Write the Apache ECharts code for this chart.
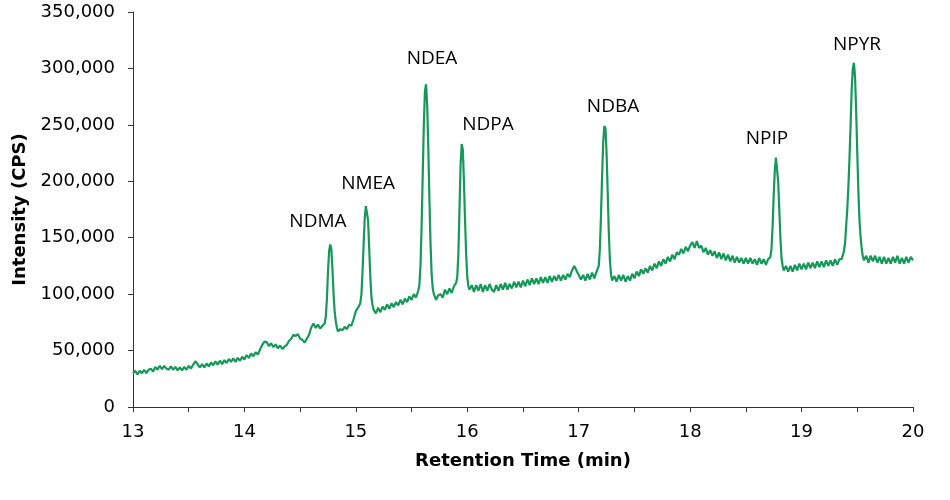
<!DOCTYPE html>
<html>
<head>
<meta charset="utf-8">
<script src="https://cdn.jsdelivr.net/npm/echarts@6/dist/echarts.min.js"></script>
<style>html,body{margin:0;padding:0;background:#fff}#c{width:950px;height:500px}</style>
</head>
<body>
<div id="c"></div>
<script>
// Chromatogram trace: [retention time (min), intensity (CPS)]
const chromatogram = [
[13.00,30000],[13.02,32000],[13.04,29000],[13.06,32000],[13.08,30000],[13.10,33000],[13.12,30000],[13.14,33000],[13.16,34000],[13.18,31500],
[13.20,35500],[13.22,33000],[13.24,36500],[13.26,33500],[13.28,36500],[13.30,34000],[13.32,33000],[13.34,36000],[13.36,33000],[13.38,35500],
[13.40,32500],[13.42,35000],[13.44,32500],[13.46,35500],[13.48,33000],[13.50,36500],[13.52,34000],[13.54,37500],[13.56,40500],[13.58,38000],
[13.60,35000],[13.62,38000],[13.64,35000],[13.66,38500],[13.68,36000],[13.70,39500],[13.72,37000],[13.74,40500],[13.76,37500],[13.78,41000],
[13.80,38000],[13.82,41500],[13.84,39000],[13.86,42500],[13.88,40000],[13.90,43000],[13.92,40000],[13.94,43500],[13.96,41000],[13.98,44500],
[14.00,42000],[14.02,46000],[14.04,43500],[14.06,47500],[14.08,45000],[14.10,48500],[14.12,46500],[14.14,51000],[14.16,55000],[14.18,58000],
[14.20,57500],[14.22,54000],[14.24,56500],[14.26,53000],[14.28,55500],[14.30,52000],[14.32,54500],[14.34,51500],[14.36,53500],[14.38,55000],
[14.40,58500],[14.42,60500],[14.44,64000],[14.46,63000],[14.48,64500],[14.50,60500],[14.52,59500],[14.54,57000],[14.56,60500],[14.58,64000],
[14.60,70500],[14.62,74000],[14.64,70000],[14.66,73000],[14.68,69500],[14.70,72000],
[14.72,74000],[14.73,80000],[14.74,95000],[14.75,120000],[14.76,138000],[14.77,144000],[14.78,140000],[14.79,122000],[14.80,100000],[14.81,84000],
[14.82,76000],[14.83,70000],[14.84,67000],[14.86,69000],[14.88,68000],[14.90,71000],[14.92,69000],[14.94,73000],[14.96,72000],[14.98,78000],
[15.00,85000],[15.02,88000],[15.04,92000],
[15.05,100000],[15.06,120000],[15.07,145000],[15.08,168000],[15.09,178000],[15.10,179000],[15.11,165000],[15.12,140000],[15.13,115000],[15.14,97000],
[15.15,90000],[15.16,86000],[15.18,83000],[15.20,88000],[15.22,84000],[15.24,89000],[15.26,86000],[15.28,91000],[15.30,87000],[15.32,92000],
[15.34,88500],[15.36,93000],[15.38,90000],[15.40,95000],[15.42,91000],[15.44,96000],[15.46,93000],[15.48,98000],[15.50,95000],[15.52,100000],
[15.54,97000],[15.56,103000],
[15.57,108000],[15.58,125000],[15.59,160000],[15.60,205000],[15.61,250000],[15.62,280000],[15.63,286000],[15.64,268000],[15.65,230000],[15.66,185000],
[15.67,145000],[15.68,118000],[15.69,105000],[15.70,100000],[15.72,95000],[15.74,99000],[15.76,100000],[15.78,97000],[15.80,104000],[15.82,100000],
[15.84,105000],[15.86,101000],[15.88,107000],[15.90,110000],
[15.91,115000],[15.92,135000],[15.93,175000],[15.94,215000],[15.95,233000],[15.96,228000],[15.97,200000],[15.98,165000],[15.99,135000],[16.00,115000],
[16.01,107000],[16.02,104000],[16.04,108000],[16.06,102000],[16.08,108000],[16.10,103000],[16.12,109000],[16.14,102000],[16.16,108000],[16.18,103000],
[16.20,109000],[16.22,104000],[16.24,102000],[16.26,108000],[16.28,103000],[16.30,109000],[16.32,104000],[16.34,110000],[16.36,104000],[16.38,109000],
[16.40,105000],[16.42,111000],[16.44,106000],[16.46,111000],[16.48,106000],[16.50,112000],[16.52,107000],[16.54,113000],[16.56,108000],[16.58,114000],
[16.60,109000],[16.62,114000],[16.64,109000],[16.66,115000],[16.68,110000],[16.70,115000],[16.72,110000],[16.74,116000],[16.76,111000],[16.78,116000],
[16.80,112000],[16.82,117000],[16.84,112000],[16.86,117000],[16.88,113000],[16.90,118000],[16.92,115000],[16.94,121000],[16.96,125000],[16.98,121000],
[17.00,117000],[17.02,113000],[17.04,117000],[17.06,112000],[17.08,118000],[17.10,113000],[17.12,119000],[17.14,114000],[17.16,120000],[17.18,125000],
[17.19,140000],[17.20,170000],[17.21,205000],[17.22,235000],[17.23,249000],[17.24,247000],[17.25,225000],[17.26,190000],[17.27,155000],[17.28,130000],
[17.29,117000],[17.30,112000],[17.32,116000],[17.34,111000],[17.36,117000],[17.38,112000],[17.40,117000],[17.42,111000],[17.44,116000],[17.46,112000],
[17.48,118000],[17.50,114000],[17.52,120000],[17.54,116000],[17.56,122000],[17.58,118000],[17.60,123000],[17.62,119000],[17.64,125000],[17.66,121000],
[17.68,127000],[17.70,123000],[17.72,129000],[17.74,125000],[17.76,131000],[17.78,127000],[17.80,133000],[17.82,129000],[17.84,135000],[17.86,131000],
[17.88,137000],[17.90,135000],[17.92,140000],[17.94,136000],[17.96,142000],[17.98,138000],[18.00,143000],[18.02,146000],[18.04,141000],[18.06,147000],
[18.08,141000],[18.10,143000],[18.12,137000],[18.14,141000],[18.16,135000],[18.18,139000],[18.20,134000],[18.22,138000],[18.24,132000],[18.26,137000],
[18.28,131000],[18.30,136000],[18.32,130000],[18.34,135000],[18.36,129000],[18.38,134000],[18.40,128000],[18.42,133000],[18.44,128000],[18.46,132000],
[18.48,127000],[18.50,132000],[18.52,127000],[18.54,132000],[18.56,127000],[18.58,131000],[18.60,126000],[18.62,132000],[18.64,127000],[18.66,131000],
[18.68,126000],[18.70,131000],[18.72,133000],
[18.73,140000],[18.74,160000],[18.75,188000],[18.76,210000],[18.77,221000],[18.78,220000],[18.79,200000],[18.80,175000],[18.81,150000],[18.82,132000],
[18.83,125000],[18.84,121000],[18.86,125000],[18.88,120000],[18.90,125000],[18.92,120000],[18.94,126000],[18.96,121000],[18.98,127000],[19.00,122000],
[19.02,127000],[19.04,122000],[19.06,128000],[19.08,123000],[19.10,128000],[19.12,123000],[19.14,129000],[19.16,124000],[19.18,129000],[19.20,124000],
[19.22,130000],[19.24,125000],[19.26,130000],[19.28,125000],[19.30,131000],[19.32,126000],[19.34,131000],[19.36,131000],[19.38,138000],
[19.39,145000],[19.40,160000],[19.41,175000],[19.42,195000],[19.43,220000],[19.44,250000],[19.45,282000],[19.46,300000],[19.47,305000],[19.48,292000],
[19.49,262000],[19.50,225000],[19.51,190000],[19.52,165000],[19.53,150000],[19.54,140000],[19.55,133000],[19.56,130000],[19.58,134000],[19.60,128000],
[19.62,134000],[19.64,129000],[19.66,134000],[19.68,128000],[19.70,133000],[19.72,127000],[19.74,133000],[19.76,127000],[19.78,132000],[19.80,127000],
[19.82,133000],[19.84,128000],[19.86,134000],[19.88,127000],[19.90,132000],[19.92,127000],[19.94,133000],[19.96,128000],[19.98,133000],[20.00,130000]
];

// Peak labels and where their text sits (data units)
const peakNames = ['NDMA','NMEA','NDEA','NDPA','NDBA','NPIP','NPYR'];
const peakLabelTime = [14.66, 15.11, 15.683, 16.186, 17.308, 18.69, 19.497];
const peakLabelIntensity = [164000, 198000, 309000, 250000, 266000, 238000, 321000];

const xTicks = [13,14,15,16,17,18,19,20];
const yTicks = [0,50000,100000,150000,200000,250000,300000,350000];

const chart = echarts.init(document.getElementById('c'), null, {renderer:'canvas'});
const axisFont = 'DejaVu Sans, Verdana, sans-serif';
chart.setOption({
  animation:false,
  backgroundColor:'#fff',
  grid:{left:133, right:37, top:12, bottom:93, containLabel:false},
  xAxis:{
    type:'value', min:xTicks[0], max:xTicks[xTicks.length-1], interval:1,
    name:'Retention Time (min)', nameLocation:'middle', nameGap:45,
    nameTextStyle:{fontFamily:axisFont, fontWeight:'bold', fontSize:18, color:'#000'},
    axisLine:{show:true, lineStyle:{color:'#333', width:1}},
    axisTick:{show:true, inside:false, length:5, lineStyle:{color:'#333'}},
    minorTick:{show:true, splitNumber:2, length:5, lineStyle:{color:'#333'}},
    splitLine:{show:false},
    axisLabel:{fontFamily:axisFont, fontSize:18, color:'#000', margin:16}
  },
  yAxis:{
    type:'value', min:yTicks[0], max:yTicks[yTicks.length-1], interval:50000,
    name:'Intensity (CPS)', nameLocation:'middle', nameGap:104, nameRotate:90,
    nameTextStyle:{fontFamily:axisFont, fontWeight:'bold', fontSize:18, color:'#000'},
    axisLine:{show:true, lineStyle:{color:'#333', width:1}},
    axisTick:{show:true, inside:false, length:5, lineStyle:{color:'#333'}},
    splitLine:{show:false},
    axisLabel:{fontFamily:axisFont, fontSize:18, color:'#000', margin:18,
      formatter:function(v){return v.toString().replace(/\B(?=(\d{3})+(?!\d))/g, ',');}}
  },
  series:[{
    type:'line',
    data:chromatogram,
    showSymbol:false,
    symbol:'none',
    lineStyle:{color:'#17975a', width:2.2},
    markPoint:{
      symbol:'circle', symbolSize:1,
      itemStyle:{color:'rgba(0,0,0,0)'},
      label:{show:true, position:'inside', color:'#000', fontSize:19,
        fontFamily:'Open Sans, Noto Sans, sans-serif', formatter:'{b}'},
      data:peakNames.map(function(n,i){return {name:n, coord:[peakLabelTime[i], peakLabelIntensity[i]]};})
    }
  }]
});
</script>
</body>
</html>
